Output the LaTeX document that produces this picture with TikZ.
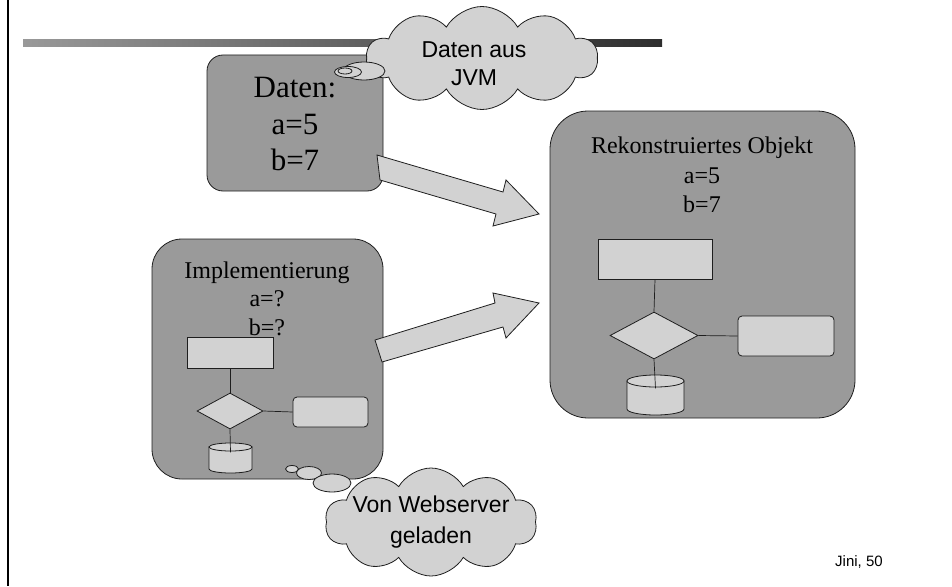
\documentclass[tikz,border=0pt]{standalone}
\usepackage{fontspec}
\setmainfont{Liberation Serif}
\setsansfont{Liberation Sans}
\usetikzlibrary{shapes.geometric,shapes.symbols,calc}
\definecolor{boxgray}{HTML}{9A9A9A}
\definecolor{lightfill}{HTML}{D2D2D2}
\definecolor{edge}{HTML}{1E1E1E}
\tikzset{
  outline/.style={draw=edge, line width=0.8pt},
  bigbox/.style={outline, fill=boxgray, inner sep=0pt},
  flowrect/.style={outline, fill=lightfill, rectangle, inner sep=0pt},
  flowround/.style={flowrect, rounded corners=4pt},
  flowdiamond/.style={outline, fill=lightfill, diamond, inner sep=0pt},
  bubble/.style={outline, fill=lightfill, ellipse, inner sep=0pt},
  thought/.style={outline, fill=lightfill, cloud, cloud puffs=10, cloud puff arc=120,
    cloud ignores aspect, inner sep=0pt},
  blockarrow/.style={outline, fill=lightfill, line join=miter},
  link/.style={draw=edge, line width=0.7pt},
  serif/.style={font=\fontsize{24}{24}\selectfont, anchor=base, inner sep=0pt},
  serifbig/.style={font=\fontsize{31}{31}\selectfont, anchor=base, inner sep=0pt},
  sans/.style={font=\sffamily\fontsize{23}{23}\selectfont, anchor=base, inner sep=0pt},
}
\begin{document}
\begin{tikzpicture}[x=1pt, y=-1pt]
\useasboundingbox (0,0) rectangle (952,586);

% page rule and title bar
\draw[line width=2.5pt] (8,0) -- (8,586);
\shade[left color=black!40, right color=black!82] (23,40) rectangle (662,47);

% data box
\node[bigbox, rounded corners=16pt, minimum width=176pt, minimum height=136pt] (daten) at (295,123) {};
\node[serifbig] (dt1) at (295,97) {Daten:};
\node[serifbig] (dt2) at (295,134) {a=5};
\node[serifbig] (dt3) at (295,170) {b=7};

% implementation box with flowchart
\node[bigbox, rounded corners=30pt, minimum width=231pt, minimum height=240pt] (impl) at (267.5,359) {};
\node[serif] (im1) at (267,278) {Implementierung};
\node[serif] (im2) at (267,306) {a=?};
\node[serif] (im3) at (267,335) {b=?};
\node[flowrect, minimum width=86pt, minimum height=31pt] (ir) at (230,352.5) {};
\node[flowdiamond, minimum width=66pt, minimum height=36pt] (id) at (230,411) {};
\node[flowround, minimum width=75pt, minimum height=30pt] (ib) at (330.5,412) {};
% drum: body, then its top cap
\filldraw[outline, fill=lightfill] (209,447) -- (209,469)
  arc[start angle=180, end angle=360, x radius=21.5pt, y radius=4pt] -- (252,447) -- cycle;
\node[bubble, minimum width=43pt, minimum height=8pt] (ic) at (230.5,447) {};
\draw[link] (ir.south) -- (id.north);
\draw[link] (id.east) -- (ib.west);
\draw[link] (id.south) -- ($(ic.south)+(0,1)$);

% reconstructed object with flowchart
\node[bigbox, rounded corners=38pt, minimum width=305pt, minimum height=307pt] (rekon) at (702.5,264.5) {};
\node[serif] (rk1) at (702,153) {Rekonstruiertes Objekt};
\node[serif] (rk2) at (702,183) {a=5};
\node[serif] (rk3) at (702,212) {b=7};
\node[flowrect, minimum width=114pt, minimum height=40pt] (rr) at (655,259) {};
\node[flowdiamond, minimum width=88pt, minimum height=47pt] (rd) at (654,335.5) {};
\node[flowround, minimum width=96pt, minimum height=40pt] (rb) at (786,336) {};
\filldraw[outline, fill=lightfill] (627,381) -- (627,409)
  arc[start angle=180, end angle=360, x radius=28.5pt, y radius=6pt] -- (684,381) -- cycle;
\node[bubble, minimum width=57pt, minimum height=12pt] (rc) at (655.5,381) {};
\draw[link] (rr.south) -- (rd.north);
\draw[link] (rd.east) -- (rb.west);
\draw[link] (rd.south) -- ($(rc.south)+(0,1)$);

% block arrows into the reconstructed object
\draw[blockarrow] (377,155) -- (503,192) -- (506,180) -- (539,214) -- (493,226) -- (496,214) -- (380,180) -- cycle;
\draw[blockarrow] (375,340) -- (495,303) -- (493,293) -- (539,303) -- (506,338) -- (503,327) -- (382,362) -- cycle;

% thought cloud: data from the JVM
\node[thought, minimum width=231pt, minimum height=103pt] (jvm) at (482,58) {};
\node[bubble, minimum width=42pt, minimum height=18pt] (jb1) at (364,71) {};
\node[bubble, minimum width=27pt, minimum height=11pt] (jb2) at (348,72) {};
\node[outline, ellipse, inner sep=0pt, minimum width=14pt, minimum height=6pt] (jb3) at (345,71) {};
\node[sans] (jt1) at (474,57) {Daten aus};
\node[sans] (jt2) at (474,85) {JVM};

% thought cloud: loaded from the web server
\node[thought, minimum width=212pt, minimum height=108pt] (web) at (431,522) {};
\node[bubble, minimum width=13pt, minimum height=7pt] (wb1) at (292,469) {};
\node[bubble, minimum width=25pt, minimum height=13pt] (wb2) at (309,473) {};
\node[bubble, minimum width=38pt, minimum height=18pt] (wb3) at (332,483) {};
\node[sans] (wt1) at (431,512) {Von Webserver};
\node[sans] (wt2) at (431,543) {geladen};

% slide footer
\node[font=\sffamily\fontsize{15}{15}\selectfont, anchor=base west, inner sep=0pt] (foot) at (835,566) {Jini, 50};
\end{tikzpicture}
\end{document}
